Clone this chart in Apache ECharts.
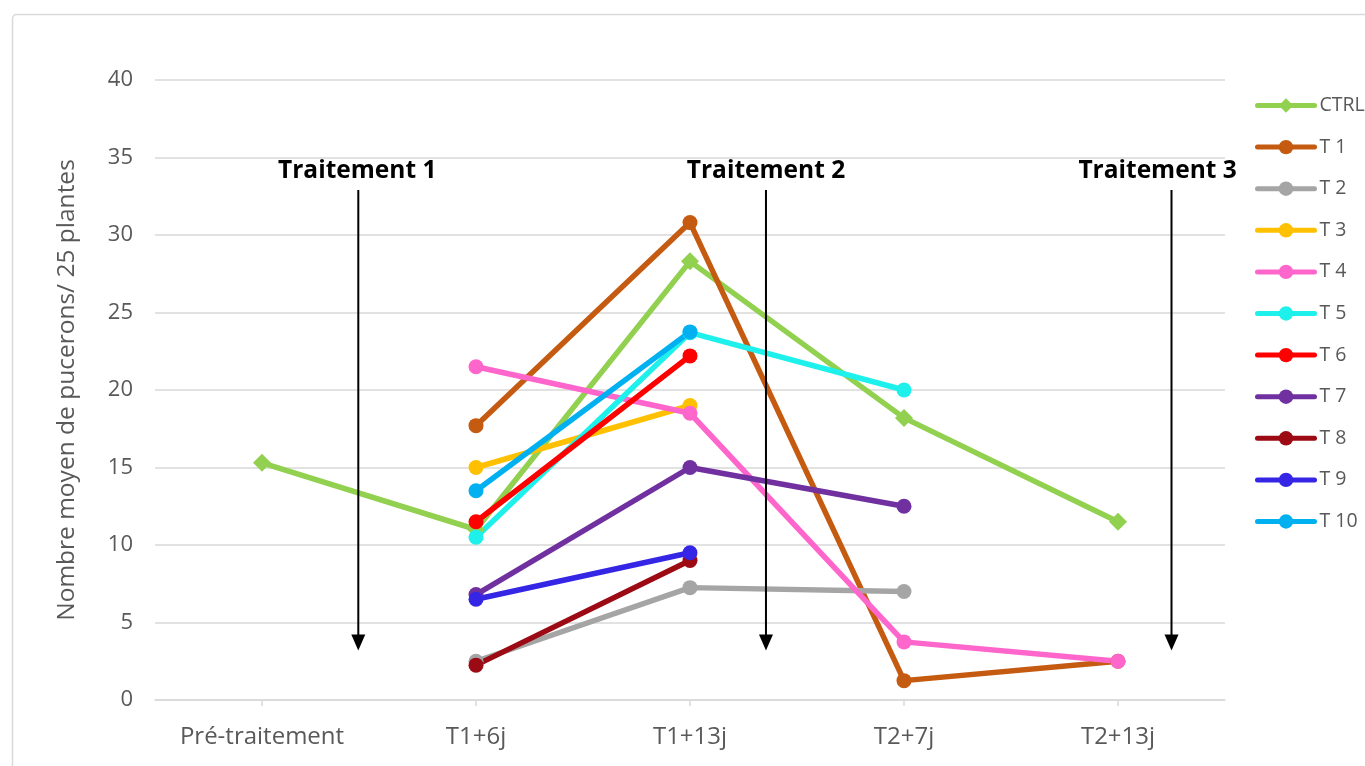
<!DOCTYPE html>
<html>
<head>
<meta charset="utf-8">
<script src="https://cdn.jsdelivr.net/npm/echarts@6/dist/echarts.min.js"></script>
<style>
html,body{margin:0;padding:0;background:#fff;}
#main{width:1365px;height:766px;}
</style>
</head>
<body>
<div id="main"></div>
<script>
var categories = ['Pré-traitement', 'T1+6j', 'T1+13j', 'T2+7j', 'T2+13j'];
var yTicks = [0, 5, 10, 15, 20, 25, 30, 35, 40];
var seriesNames = ['CTRL', 'T 1', 'T 2', 'T 3', 'T 4', 'T 5', 'T 6', 'T 7', 'T 8', 'T 9', 'T 10'];
var ctrl = [15.3, 11.0, 28.3, 18.2, 11.5];
var t1 = [null, 17.7, 30.8, 1.25, 2.5];
var t2 = [null, 2.5, 7.25, 7.0, null];
var t3 = [null, 15.0, 19.0, null, null];
var t4 = [null, 21.5, 18.5, 3.75, 2.5];
var t5 = [null, 10.5, 23.7, 20.0, null];
var t6 = [null, 11.5, 22.2, null, null];
var t7 = [null, 6.8, 15.0, 12.5, null];
var t8 = [null, 2.25, 9.0, null, null];
var t9 = [null, 6.5, 9.5, null, null];
var t10 = [null, 13.5, 23.75, null, null];
var seriesValues = [ctrl, t1, t2, t3, t4, t5, t6, t7, t8, t9, t10];
var seriesColors = ['#92d050', '#c55a11', '#a5a5a5', '#ffc000', '#ff66cc', '#1ef0ec', '#ff0000', '#7030a0', '#9c0a14', '#3526e6', '#00b0f0'];

// annotations (category-position units on a hidden value axis, y in data units)
var annotLabels = ['Traitement 1', 'Traitement 2', 'Traitement 3'];
var annotArrowPos = [0.45, 2.355, 4.25];
var annotTextPos = [0.445, 2.355, 4.185];
var annotTextY = 34.1;
var annotArrowTop = 32.9;
var annotArrowTip = 3.2;

var chart = echarts.init(document.getElementById('main'));
var font = 'Open Sans';

var series = seriesNames.map(function (name, i) {
  var isCtrl = i === 0;
  return {
    name: name,
    type: 'line',
    xAxisIndex: 0,
    yAxisIndex: 0,
    data: seriesValues[i],
    symbol: isCtrl ? 'path://M0,-1L1,0L0,1L-1,0Z' : 'circle',
    symbolSize: isCtrl ? 18 : 15,
    showAllSymbol: true,
    connectNulls: false,
    lineStyle: { width: 5.5, color: seriesColors[i], cap: 'round', join: 'round' },
    itemStyle: { color: seriesColors[i], borderWidth: 0 },
    emphasis: { disabled: true },
    animation: false
  };
});
// hidden series to anchor hidden value x axis
series.push({
  name: '_anchor', type: 'line', xAxisIndex: 1, yAxisIndex: 0,
  data: [], silent: true, showSymbol: false
});

chart.setOption({
  animation: false,
  backgroundColor: '#ffffff',
  grid: { left: 155, right: 140, top: 80, bottom: 66, containLabel: false },
  legend: {
    data: seriesNames,
    orient: 'vertical',
    left: 1255,
    top: 95,
    padding: 0,
    itemWidth: 57,
    itemHeight: 18,
    itemGap: 20.6,
    lineStyle: { width: 5 },
    textStyle: { fontFamily: font, fontSize: 19.5, color: '#595959', lineHeight: 21 },
    selectedMode: false
  },
  xAxis: [{
    type: 'category',
    data: categories,
    boundaryGap: true,
    axisLine: { show: true, lineStyle: { color: '#d9d9d9', width: 1.5 } },
    axisTick: { show: true, alignWithLabel: true, length: 6, lineStyle: { color: '#d9d9d9', width: 1.5 } },
    axisLabel: { fontFamily: font, fontSize: 24, color: '#595959', margin: 25 },
    splitLine: { show: false }
  }, {
    type: 'value',
    min: -0.5,
    max: 4.5,
    show: false
  }],
  yAxis: {
    type: 'value',
    min: yTicks[0],
    max: yTicks[yTicks.length - 1],
    interval: yTicks[1] - yTicks[0],
    name: 'Nombre moyen de pucerons/ 25 plantes',
    nameLocation: 'middle',
    nameGap: 75,
    nameTextStyle: { fontFamily: font, fontSize: 24.5, color: '#595959' },
    axisLine: { show: false },
    axisTick: { show: false },
    axisLabel: { fontFamily: font, fontSize: 22, color: '#595959', margin: 22 },
    splitLine: { show: true, lineStyle: { color: '#d9d9d9', width: 1.5 } }
  },
  series: series
});

function px(pos, val) {
  return chart.convertToPixel({ xAxisIndex: 1, yAxisIndex: 0 }, [pos, val]);
}

var graphics = [{
  type: 'rect',
  shape: { x: 12.5, y: 14.5, width: 1400, height: 800, r: 4 },
  style: { fill: null, stroke: '#d9d9d9', lineWidth: 1.5 },
  z: -10, silent: true
}];
annotLabels.forEach(function (lbl, i) {
  var tp = px(annotTextPos[i], annotTextY);
  var top = px(annotArrowPos[i], annotArrowTop);
  var tip = px(annotArrowPos[i], annotArrowTip);
  var headH = 16, headW = 7;
  graphics.push({
    type: 'text',
    x: tp[0], y: tp[1],
    style: { text: lbl, fontFamily: font, fontWeight: 'bold', fontSize: 24.5, fill: '#000', align: 'center', verticalAlign: 'middle' },
    z: 50, silent: true
  });
  graphics.push({
    type: 'line',
    shape: { x1: top[0], y1: top[1], x2: tip[0], y2: tip[1] - headH + 2 },
    style: { stroke: '#000', lineWidth: 2 },
    z: 50, silent: true
  });
  graphics.push({
    type: 'polygon',
    shape: { points: [[tip[0] - headW, tip[1] - headH], [tip[0] + headW, tip[1] - headH], [tip[0], tip[1]]] },
    style: { fill: '#000' },
    z: 50, silent: true
  });
});
chart.setOption({ graphic: graphics });
</script>
</body>
</html>
